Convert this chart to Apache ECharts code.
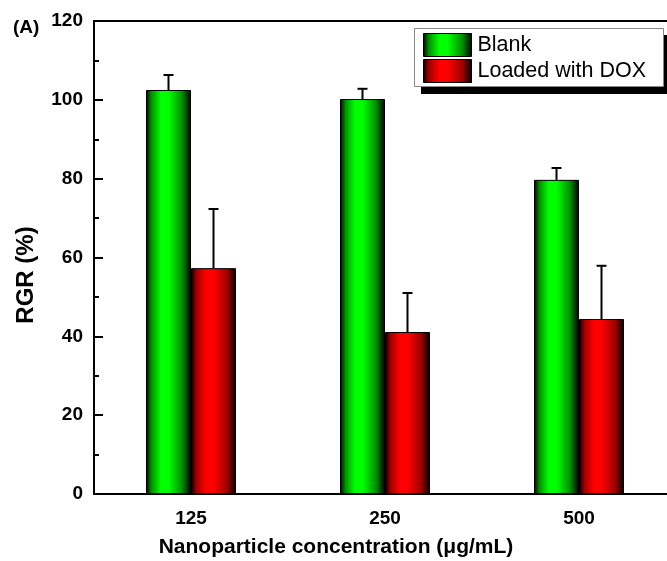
<!DOCTYPE html>
<html>
<head>
<meta charset="utf-8">
<script src="https://cdn.jsdelivr.net/npm/echarts@6/dist/echarts.min.js"></script>
<style>html,body{margin:0;padding:0;background:#fff}#c{width:667px;height:561px}</style>
</head>
<body>
<div id="c"></div>
<script>
var categories = ['125', '250', '500'];
var blankValues = [102.5, 100.2, 79.7];
var blankErrors = [3.8, 2.6, 3.0];
var doxValues = [57.3, 41.1, 44.4];
var doxErrors = [15.0, 9.9, 13.5];
var yTicks = [0, 20, 40, 60, 80, 100, 120];
var seriesNames = ['Blank', 'Loaded with DOX'];

var FONT = '"Liberation Sans", Arial, sans-serif';
var BAR_W = 45;

function grad(c) {
  return new echarts.graphic.LinearGradient(0, 0, 1, 0, [
    {offset: 0, color: c[0]},
    {offset: 0.12, color: c[1]},
    {offset: 0.33, color: c[2]},
    {offset: 0.5, color: c[2]},
    {offset: 0.8, color: c[1]},
    {offset: 1, color: c[0]}
  ]);
}
var greenGrad = grad(['#000000', '#009000', '#00ff00']);
var redGrad = grad(['#000000', '#a00000', '#ff0000']);

function errData(vals, errs) {
  return vals.map(function (v, i) { return [i, v, v + errs[i]]; });
}
function errRender(offset) {
  return function (params, api) {
    var i = api.value(0);
    var p0 = api.coord([i, api.value(1)]);
    var p1 = api.coord([i, api.value(2)]);
    var x = p0[0] + offset;
    var style = {stroke: '#000', lineWidth: 2};
    return {
      type: 'group',
      children: [
        {type: 'line', shape: {x1: x, y1: p0[1], x2: x, y2: p1[1]}, style: style},
        {type: 'line', shape: {x1: x - 5, y1: p1[1], x2: x + 5, y2: p1[1]}, style: style}
      ]
    };
  };
}

var chart = echarts.init(document.getElementById('c'), null, {renderer: 'canvas'});
chart.setOption({
  animation: false,
  backgroundColor: '#fff',
  grid: {left: 94, right: -9, top: 21, bottom: 67, outerBoundsMode: 'none', containLabel: false},
  xAxis: [{
    type: 'category',
    data: categories,
    position: 'bottom',
    axisLine: {lineStyle: {color: '#000', width: 2}},
    axisTick: {show: false},
    axisLabel: {color: '#000', fontFamily: FONT, fontWeight: 'bold', fontSize: 19, margin: 15}
  }, {
    type: 'category',
    data: categories,
    position: 'top',
    axisLine: {lineStyle: {color: '#000', width: 2}},
    axisTick: {show: false},
    axisLabel: {show: false}
  }],
  yAxis: {
    type: 'value',
    min: yTicks[0],
    max: yTicks[yTicks.length - 1],
    interval: yTicks[1] - yTicks[0],
    axisLine: {show: true, lineStyle: {color: '#000', width: 2}},
    axisTick: {show: true, inside: true, length: 9, lineStyle: {color: '#000', width: 2}},
    minorTick: {show: true, splitNumber: 2, length: 5, lineStyle: {color: '#000', width: 2}},
    splitLine: {show: false},
    axisLabel: {color: '#000', fontFamily: FONT, fontWeight: 'bold', fontSize: 19, margin: 11}
  },
  legend: {
    orient: 'vertical',
    left: 423,
    top: 33,
    icon: 'rect',
    itemWidth: 48,
    itemHeight: 23,
    itemGap: 2,
    padding: 0,
    itemStyle: {borderColor: '#000', borderWidth: 1},
    textStyle: {color: '#000', fontFamily: FONT, fontSize: 21.5, padding: [0, 0, 0, 1]},
    data: seriesNames
  },
  graphic: [
    {type: 'rect', shape: {x: 421, y: 35, width: 260, height: 59}, style: {fill: '#000'}, z: -1},
    {type: 'rect', shape: {x: 414.5, y: 28.5, width: 249, height: 58}, style: {fill: '#fff', stroke: '#888', lineWidth: 1}, z: -1},
    {type: 'text', left: 13, top: 18, style: {text: '(A)', font: 'bold 19px ' + FONT, fill: '#000'}},
    {type: 'text', x: 26, y: 275, rotation: Math.PI / 2,
      style: {text: 'RGR (%)', font: 'bold 24px ' + FONT, fill: '#000', textAlign: 'center', textVerticalAlign: 'middle'}},
    {type: 'text', x: 336, y: 547,
      style: {text: 'Nanoparticle concentration (\u03bcg/mL)', font: 'bold 21px ' + FONT, fill: '#000', textAlign: 'center', textVerticalAlign: 'middle'}}
  ],
  series: [
    {
      name: seriesNames[0], type: 'bar', barWidth: BAR_W, barGap: '0%',
      data: blankValues,
      itemStyle: {color: greenGrad, borderColor: '#000', borderWidth: 1}
    },
    {
      name: seriesNames[1], type: 'bar', barWidth: BAR_W, barGap: '0%',
      data: doxValues,
      itemStyle: {color: redGrad, borderColor: '#000', borderWidth: 1}
    },
    {
      type: 'custom', renderItem: errRender(-BAR_W / 2), data: errData(blankValues, blankErrors), z: 5,
      encode: {x: 0, y: [1, 2]}
    },
    {
      type: 'custom', renderItem: errRender(BAR_W / 2), data: errData(doxValues, doxErrors), z: 5,
      encode: {x: 0, y: [1, 2]}
    }
  ]
});
</script>
</body>
</html>
